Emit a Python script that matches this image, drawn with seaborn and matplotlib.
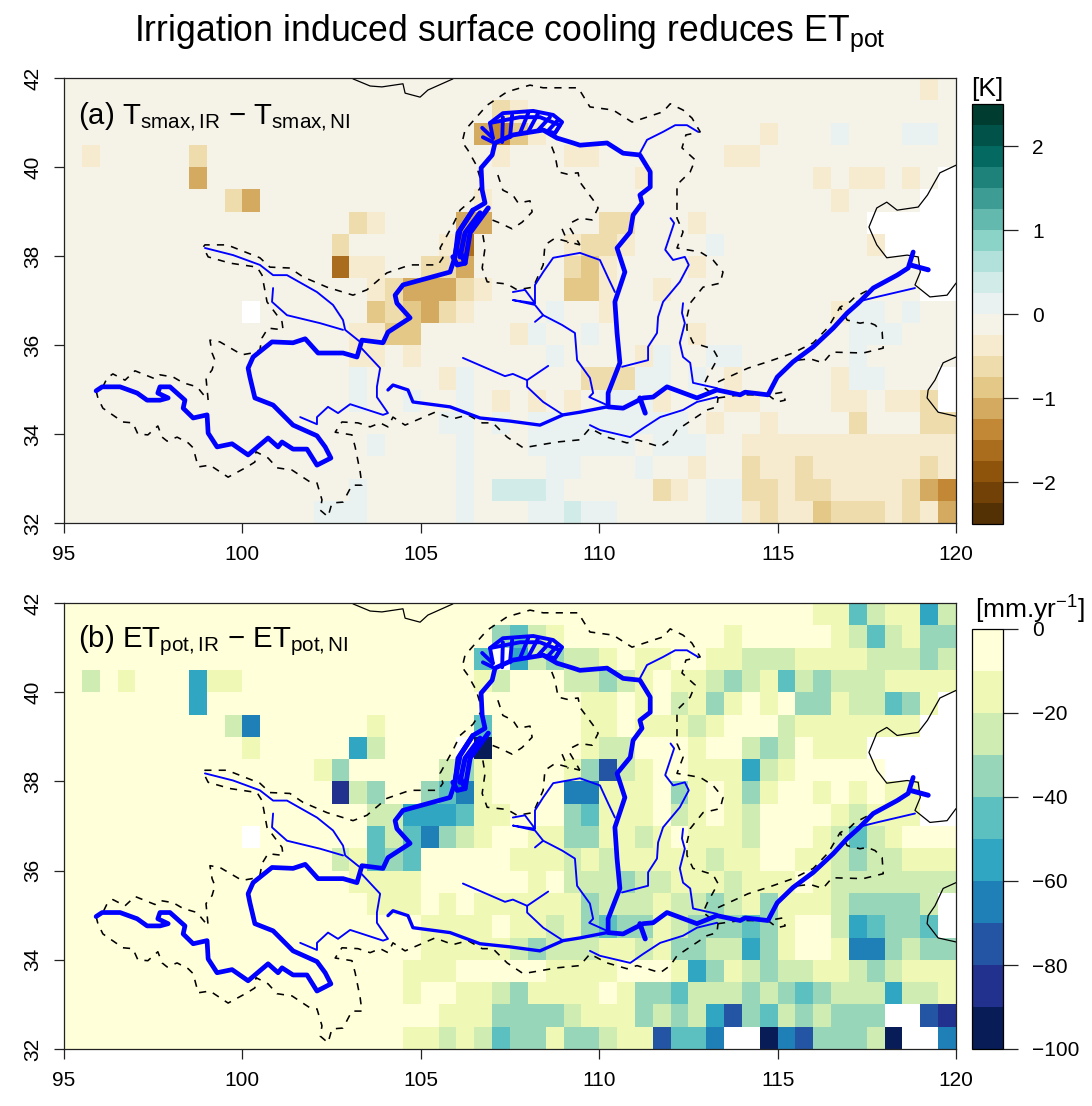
import numpy as np
import pandas as pd
import matplotlib
matplotlib.use("Agg")
import matplotlib.pyplot as plt
import seaborn as sns

sns.set_style("ticks")
plt.rcParams['font.family'] = ['Liberation Sans', 'DejaVu Sans']
plt.rcParams['mathtext.fontset'] = 'custom'
plt.rcParams['mathtext.rm'] = 'Liberation Sans'
plt.rcParams['mathtext.it'] = 'Liberation Sans'
plt.rcParams['mathtext.default'] = 'regular'
plt.rcParams['text.color'] = 'black'
plt.rcParams['xtick.labelcolor'] = 'black'
plt.rcParams['ytick.labelcolor'] = 'black'

# 0.5 degree grid, north to south, west to east
lon_ticks = [95, 100, 105, 110, 115, 120]
lat_ticks = [32, 34, 36, 38, 40, 42]

# (a) surface temperature change [K], one character per grid cell
tsmax_codes = {'.': -0.12, 'a': -0.37, 'b': -0.62, 'c': -0.87, 'd': -1.12, 'e': -1.37,
               'f': -1.62, '+': 0.12, '*': 0.37, 'n': np.nan}
tsmax_rows = [
    ".......... .......... .......... .......... ........a.",
    ".......... .......... ....ba.... .......... ..........",
    ".......... .......... ...deca... .........a ...+...++.",
    ".a.....b.. .......... ....a...aa .......aa. ..........",
    ".......d.. .......... .......... ..a....... ..a.aa.a.n",
    ".........b d......... ...a...... .......... ...a....nn",
    ".......... ......ba.. ..dd...... bb...a.... .....nnnnn",
    ".......... .....b.... .af.....ab ba....+... .....annnn",
    ".......... .....faa.. bbd.....bc a....a.... ........nn",
    ".......... .......abd ddba....cc a..a...... ........nn",
    ".......... n......cbc dba....+.. a......... ...a++.+..",
    ".......... ......aacc .....a+..+ .....a.... ....+++...",
    ".......... ......aa.a .......+.. ..a+..++.. ....+.....",
    ".......... ......+... .a+......b bb++.+.a.. ...a++...n",
    ".......... ......+..+ ..+.a.a.a. +++a...aa. ...aa.aabn",
    ".......... .......... .++.+.++++ +++++.a..a ....b...bb",
    ".......... .......+.. ..+...++++ ++.+++..aa aaaaaaaaaa",
    ".......... .......... ..+....++. ..+..a..ba abaaaaaaba",
    ".......... ......+... ..+.***+.. ...ba.++bb abbaaaabde",
    ".......... ....+++... ..+...++*+ +.....++ab aacbbbabad",
]

# (b) potential evapotranspiration change, colour class per cell (class k = -10k-5 mm/yr)
etpot_rows = [
    "0000000000 0000000000 0000000000 0000000000 0011421152",
    "0000000000 0000000000 0000342100 0000000100 0001242133",
    "0000000000 0000000000 0004n52322 1011001122 2111122232",
    "0201000511 0000000000 0001200022 3210112321 4232221111",
    "0000000500 0000000000 0000000001 1010213101 033122431n",
    "0000000002 6000000100 0004000001 1011121000 21111111nn",
    "0000000000 1000005200 00n9000001 2200010023 20111nnnnn",
    "0000000000 0000130000 0231000013 7210011152 100000nnnn",
    "0000000000 0000082300 3461000066 1110310131 00101011nn",
    "0000000000 0000000225 5541100034 1110210120 00012111nn",
    "0000000000 n000000424 6321001133 1121011120 0012421000",
    "0000000000 0000021434 0000011121 2111112110 0112322111",
    "0000000000 0000001111 0000001022 2322111211 1012222222",
    "0000000000 0000000111 0101111113 2221223213 111233332n",
    "0000000000 0000000000 1111011213 4331233343 100254334n",
    "0000000000 0000000000 1111123222 1121332253 1001663233",
    "0000000000 0000000001 1100000111 1000153123 2211232111",
    "0000000000 0000000001 0011231111 0133422232 3432225221",
    "0000000000 0000000000 0111333321 1132325734 232333nn78",
    "0000000000 0000000001 1212433133 2117446nn9 6733329nn6",
]

tsmax_ticks = [-2, -1, 0, 1, 2]
etpot_ticks = [-100, -80, -60, -40, -20, 0]

# Yellow River main stem
main_lon = [95.90, 96.07, 96.57, 97.05, 97.33, 97.69, 97.92, 97.63, 97.69, 97.97, 98.39, 98.34, 98.62, 99.01,
            99.04, 99.29, 99.71, 100.16, 100.72, 101.0, 101.11, 101.42, 101.81, 102.09, 102.48, 102.32, 102.09,
            101.42, 100.86, 100.35, 100.21, 100.16, 100.30, 100.83, 101.42, 101.76, 102.12, 102.82, 103.21,
            103.35, 103.94, 104.08, 104.70, 104.33, 104.28, 104.50, 105.82, 105.96, 106.04, 106.46, 106.80,
            106.72, 106.69, 107.0, 107.08, 107.58, 108.43, 108.82, 109.27, 109.46, 110.22, 110.67, 111.14, 111.43,
            111.43, 111.14, 111.20, 110.95, 110.87, 110.50, 110.72, 110.44, 110.50, 110.58, 110.25, 110.25,
            110.67, 111.23, 111.51, 111.90, 112.74, 113.30, 113.95, 114.09, 114.73, 114.99, 115.43, 116.0,
            116.56, 116.95, 117.26, 117.68, 118.35, 118.66, 118.80]
main_lat = [34.97, 35.06, 35.06, 34.92, 34.76, 34.76, 34.81, 34.92, 35.06, 35.06, 34.76, 34.58, 34.36, 34.43,
            34.02, 33.71, 33.78, 33.53, 33.91, 33.71, 33.82, 33.66, 33.66, 33.30, 33.46, 33.71, 33.96,
            34.20, 34.65, 34.81, 35.28, 35.48, 35.73, 36.07, 36.05, 36.14, 35.82, 35.82, 35.73,
            36.11, 36.05, 36.29, 36.61, 36.94, 37.12, 37.35, 37.64, 37.98, 38.52, 39.03, 39.19,
            39.48, 39.98, 40.27, 40.54, 40.72, 40.83, 40.65, 40.54, 40.49, 40.54, 40.31, 40.27, 39.89,
            39.55, 39.37, 39.19, 38.92, 38.54, 38.18, 37.64, 36.97, 36.27, 35.60, 34.92, 34.61,
            34.58, 34.81, 34.83, 35.06, 34.81, 34.99, 34.88, 34.94, 34.88, 35.28, 35.62, 35.96,
            36.38, 36.72, 36.94, 37.28, 37.57, 37.73, 38.09]

# side channels of the main stem (lon, lat)
channels = [
    ([118.71, 119.22], [37.80, 37.69]),
    ([105.96, 106.10, 106.46], [38.02, 38.58, 39.03]),
    ([106.24, 106.38, 106.89], [37.84, 38.52, 39.08]),
    ([106.10, 106.24, 106.66], [37.98, 38.52, 38.97]),
    ([105.90, 106.02, 106.24, 106.10], [37.98, 37.80, 37.84, 38.10]),
    ([111.14, 111.29], [34.81, 34.47]),
]
hetao_lines = [
    ([106.72, 107.02], [40.88, 40.65]),
    ([106.74, 107.02], [40.67, 40.56]),
    ([107.02, 106.94, 107.30, 108.15, 108.71, 108.96, 108.76, 108.43], [40.65, 40.99, 41.21, 41.26, 41.17, 41.01, 40.76, 40.83]),
    ([106.94, 107.78, 108.34, 108.90, 108.76], [40.99, 41.12, 41.12, 40.94, 40.76]),
    ([107.28, 107.30], [40.56, 41.12]),
    ([107.50, 107.56], [40.67, 41.17]),
    ([107.78, 108.01], [40.76, 41.21]),
    ([108.01, 108.29], [40.79, 41.21]),
    ([108.29, 108.62], [40.83, 41.12]),
    ([108.54, 108.85], [40.79, 41.06]),
]

wei_lon = [104.08, 104.22, 104.64, 104.78, 105.82, 106.66, 107.50, 108.34, 108.99, 109.46, 110.22]
wei_lat = [34.99, 35.10, 34.99, 34.72, 34.61, 34.36, 34.29, 34.20, 34.43, 34.49, 34.61]

tributaries = [
    ([98.95, 99.74, 100.49, 100.86, 101.25, 102.09, 102.54, 102.82, 102.88, 103.30],
     [38.18, 38.02, 37.80, 37.57, 37.57, 37.19, 36.90, 36.56, 36.34, 36.07]),
    ([100.86, 100.83, 101.25, 102.18, 102.82], [37.28, 36.97, 36.67, 36.49, 36.34]),
    ([101.62, 102.09, 102.09, 102.40, 102.68, 103.02, 103.94, 104.08, 103.77, 103.77, 103.86, 103.30],
     [34.38, 34.22, 34.38, 34.61, 34.47, 34.67, 34.43, 34.47, 34.83, 35.06, 35.48, 35.96]),
    ([106.18, 107.36, 107.58, 107.98, 108.57], [35.71, 35.30, 35.35, 35.21, 35.53]),
    ([107.98, 107.98, 108.43, 108.99], [35.21, 35.06, 34.72, 34.43]),
    ([107.58, 107.92, 108.20, 107.58, 108.20, 108.43, 108.96, 109.32, 109.38, 109.74, 109.83, 109.72, 110.22],
     [37.19, 37.24, 36.94, 37.01, 36.90, 36.67, 36.45, 36.27, 35.66, 35.26, 34.92, 34.83, 34.65]),
    ([108.20, 108.20, 108.43, 108.71, 109.46, 110.02, 110.25, 110.44], [36.94, 37.35, 37.64, 37.96, 38.07, 37.91, 37.51, 37.19]),
    ([108.43, 108.20], [36.67, 36.52]),
    ([112.0, 112.10, 111.85, 112.07, 112.40, 112.51, 112.26, 111.79, 111.65, 111.62, 111.37, 111.37, 110.64],
     [38.85, 38.74, 38.14, 37.91, 37.98, 37.80, 37.42, 36.97, 36.63, 36.27, 35.96, 35.66, 35.51]),
    ([112.35, 112.32, 112.40, 112.26, 112.35, 112.55, 112.63, 113.30], [36.94, 36.72, 36.49, 36.05, 35.73, 35.60, 35.15, 35.03]),
    ([109.74, 110.02, 110.87, 111.23, 111.71, 112.35, 112.74, 113.30], [34.20, 34.09, 33.93, 34.13, 34.38, 34.54, 34.72, 34.83]),
    ([111.14, 111.34, 111.79, 112.13, 112.46, 112.77], [40.31, 40.61, 40.79, 40.94, 40.94, 40.79]),
    ([117.23, 117.78, 118.85], [36.97, 37.08, 37.28]),
]

# basin boundary pieces
basin_lines = [
    ([95.90, 95.95, 96.09, 96.65, 96.93, 97.07, 97.35, 97.63, 97.75, 97.89, 98.17, 98.48, 98.62, 98.76, 99.09, 99.60,
      100.13, 100.35, 100.38, 100.72, 100.97, 101.39, 101.90, 102.09, 102.23, 102.18, 102.40, 102.51, 102.82, 103.07,
      103.35, 103.30, 103.16, 103.07, 102.60, 102.79, 103.24, 103.58, 103.86, 104.08, 104.22, 104.56, 105.40, 105.90,
      106.32, 106.72, 107.02, 107.42, 107.87, 108.82, 109.46, 109.74, 110.22, 110.78, 111.06, 111.34, 111.71, 111.99,
      112.18, 113.02, 113.30, 113.33, 112.91, 113.02, 113.33, 113.19, 112.63, 112.46, 112.46, 112.55, 112.91, 113.39,
      113.47, 113.19, 112.83, 112.18, 112.35, 112.18, 112.18, 112.18, 112.55, 112.69, 112.32, 112.43, 112.83, 112.60,
      112.35, 111.99, 111.79, 110.92, 110.39, 109.74, 109.41, 108.43, 108.06, 107.42, 106.86, 106.24, 106.16, 106.32,
      106.55, 106.72, 106.46, 106.10, 105.90, 105.54, 105.62, 105.48, 104.70, 104.05, 103.49, 103.10, 102.37, 101.70,
      101.33, 100.77, 100.49, 99.57, 98.95, 98.90, 99.04, 99.65, 100.41, 100.55, 100.69, 101.11, 101.14, 100.72, 100.55,
      100.49, 100.27, 99.99, 99.37, 99.09, 99.15, 99.23, 99.15, 98.98, 99.04, 98.87, 98.73, 98.34, 98.06, 97.69, 97.55,
      96.99, 96.71, 96.37, 96.21, 96.07, 95.90],
     [34.97, 34.81, 34.58, 34.27, 34.25, 34.0, 33.98, 34.18, 33.93, 33.84, 33.93, 33.80, 33.69, 33.26, 33.30, 33.03,
      33.26, 33.37, 33.60, 33.46, 33.24, 33.19, 32.92, 32.90, 32.52, 32.29, 32.14, 32.45, 32.47, 32.85,
      32.85, 33.15, 33.71, 33.98, 34.04, 34.27, 34.25, 34.16, 34.25, 34.16, 34.38, 34.20, 34.49, 34.34,
      34.43, 34.25, 34.25, 33.93, 33.69, 33.82, 33.87, 34.13, 33.93, 33.80, 33.87, 33.80, 33.71, 33.87,
      34.09, 34.54, 34.61, 34.81, 35.06, 35.26, 35.71, 35.91, 36.05, 36.34, 36.63, 36.94, 37.30, 37.39,
      37.64, 37.91, 38.09, 38.18, 38.54, 38.85, 39.15, 39.60, 39.89, 40.16, 40.43, 40.72, 40.79, 41.10,
      41.28, 41.42, 41.24, 41.01, 41.28, 41.35, 41.78, 41.78, 41.84, 41.69, 41.39, 40.83, 40.56, 40.38,
      40.05, 39.60, 39.28, 39.03, 38.70, 38.18, 37.96, 37.80, 37.80, 37.62, 37.24, 37.12, 37.30, 37.53,
      37.73, 37.75, 37.96, 38.25, 38.25, 38.20, 37.98, 37.84, 37.75, 37.57, 36.97, 36.52, 36.34, 36.38, 36.16,
      35.89, 35.82, 35.78, 36.07, 36.11, 35.82, 35.66, 35.44, 35.26, 34.76, 34.92, 35.06, 35.15, 35.28, 35.33, 35.24,
      35.42, 35.21, 35.35, 35.26, 35.03, 34.97]),
    ([113.33, 114.17, 114.79, 115.43, 116.0, 116.42, 116.75, 117.03, 117.17, 117.82, 118.43],
     [35.17, 35.48, 35.64, 35.82, 36.05, 36.40, 36.85, 36.97, 37.08, 37.35, 37.57]),
    ([115.57, 115.91, 116.27, 116.53, 117.40, 117.96, 117.93, 117.73, 117.51, 117.31, 116.95, 116.75],
     [35.66, 35.69, 35.60, 35.84, 35.82, 35.93, 36.29, 36.45, 36.52, 36.49, 36.56, 36.85]),
    ([113.33, 113.95, 114.73, 115.15, 115.21, 114.99, 114.73], [34.81, 34.88, 34.88, 34.94, 34.76, 34.72, 34.88]),
    ([107.16, 107.30, 107.58, 107.73, 108.06, 108.12, 107.84, 107.56, 107.22, 107.0],
     [39.82, 39.48, 39.37, 39.19, 39.24, 38.99, 38.76, 38.61, 38.74, 38.81]),
    ([106.74, 106.80, 106.72, 106.86, 107.42, 107.70, 108.15, 108.43, 108.48, 108.76, 109.46],
     [38.47, 38.18, 37.73, 37.42, 37.37, 37.24, 37.30, 37.80, 38.25, 38.40, 38.25]),
    ([109.24, 109.46, 109.80, 109.97, 109.83, 109.46, 109.41, 109.10, 108.85, 108.76, 108.62],
     [38.76, 38.85, 38.81, 39.08, 39.26, 39.66, 39.87, 39.84, 39.89, 40.27, 40.56]),
    ([108.96, 109.13], [38.61, 38.29]),
    ([109.18, 109.46], [38.63, 38.25]),
]

coast_lines = [
    ([103.1, 103.58, 103.91, 104.5, 104.56, 104.98, 105.2, 105.9], [41.98, 41.82, 41.8, 41.87, 41.66, 41.57, 41.73, 41.98]),
    ([120, 119.55, 119.36, 119.2, 118.94, 118.35, 118.06, 117.78, 117.56, 117.78, 118.06, 118.63, 118.94, 119.0, 118.85, 119.27, 119.75, 120],
     [40.04, 39.87, 39.6, 39.37, 39.1, 39.03, 39.21, 39.08, 38.65, 38.25, 37.96, 38.02, 37.98, 37.64, 37.35, 37.08, 37.12, 37.39]),
    ([120, 119.64, 119.41, 119.22, 119.19, 119.5, 120], [35.73, 35.6, 35.21, 34.99, 34.81, 34.49, 34.4]),
]


def parse_rows(rows, codes):
    table = [[codes[c] for c in r.replace(" ", "")] for r in rows]
    return pd.DataFrame(table)


def to_x(lon):
    return (np.array(lon) - 95) * 2


def to_y(lat):
    return (42 - np.array(lat)) * 2


def draw_map(ax, cax, data, cmap, vmin, vmax, ticks):
    sns.heatmap(data, ax=ax, cbar_ax=cax, cmap=cmap, vmin=vmin, vmax=vmax,
                xticklabels=False, yticklabels=False, cbar_kws={'ticks': ticks})

    for x, y in coast_lines:
        ax.plot(to_x(x), to_y(y), color='black', lw=0.9)
    for x, y in basin_lines:
        ax.plot(to_x(x), to_y(y), color='black', lw=1.15, ls=(0, (4.5, 4.5)))
    for x, y in tributaries:
        ax.plot(to_x(x), to_y(y), color='#0000FF', lw=1.35, solid_joinstyle='round')
    ax.plot(to_x(wei_lon), to_y(wei_lat), color='#0000FF', lw=2.4, solid_joinstyle='round')
    for x, y in hetao_lines:
        ax.plot(to_x(x), to_y(y), color='#0000FF', lw=2.8, solid_capstyle='round', solid_joinstyle='round')
    for x, y in channels:
        ax.plot(to_x(x), to_y(y), color='#0000FF', lw=3.6, solid_capstyle='round', solid_joinstyle='round')
    ax.plot(to_x(main_lon), to_y(main_lat), color='#0000FF', lw=3.4, solid_joinstyle='round', solid_capstyle='round')

    # axis look of the original
    ax.set_xticks(to_x(lon_ticks))
    ax.set_xticklabels(lon_ticks, fontsize=15, rotation=0)
    ax.set_yticks(to_y(lat_ticks))
    ax.set_yticklabels(lat_ticks, fontsize=15, rotation=90, va='center')
    ax.tick_params(axis='x', length=7.5, width=0.9, pad=8, color='#222222')
    ax.tick_params(axis='y', length=7.5, width=0.9, pad=8, color='#222222')
    ax.set_xlabel("")
    ax.set_ylabel("")
    for s in ax.spines.values():
        s.set_visible(True)
        s.set_linewidth(0.9)
        s.set_color('#222222')

    cax.tick_params(length=11, width=0.9, pad=10, labelsize=15, color='#222222')
    cbar = ax.collections[0].colorbar
    cbar.outline.set_visible(True)
    cbar.outline.set_edgecolor('black')
    cbar.outline.set_linewidth(0.9)


W, H = 1092.0, 1106.0


def box(left, top, right, bottom):
    return [left / W, 1 - bottom / H, (right - left) / W, (bottom - top) / H]


fig = plt.figure(figsize=(10.92, 11.06), dpi=100)
ax1 = fig.add_axes(box(64, 78, 956, 523))
cax1 = fig.add_axes(box(972, 104, 1003, 524))
ax2 = fig.add_axes(box(64, 603, 956, 1049))
cax2 = fig.add_axes(box(972, 629, 1003, 1049))

tsmax = parse_rows(tsmax_rows, tsmax_codes)
etpot_codes = {str(k): -10 * k - 5 for k in range(10)}
etpot_codes['n'] = np.nan
etpot = parse_rows(etpot_rows, etpot_codes)

draw_map(ax1, cax1, tsmax, matplotlib.colormaps['BrBG'].resampled(20), -2.5, 2.5, tsmax_ticks)
draw_map(ax2, cax2, etpot, matplotlib.colormaps['YlGnBu_r'].resampled(10), -100, 0, etpot_ticks)

ax1.text(14 / 892, 1 - 38 / 445, r'(a) T$_{smax,IR}$ $-$ T$_{smax,NI}$', transform=ax1.transAxes,
         fontsize=21.2, va='center', ha='left', color='black')
ax2.text(14 / 892, 1 - 38 / 446, r'(b) ET$_{pot,IR}$ $-$ ET$_{pot,NI}$', transform=ax2.transAxes,
         fontsize=21.2, va='center', ha='left', color='black')

fig.text(510 / W, 1 - 33 / H, r'Irrigation induced surface cooling reduces ET$_{pot}$',
         fontsize=25.7, ha='center', va='center')
fig.text(987 / W, 1 - 89 / H, '[K]', fontsize=19, ha='center', va='center')
fig.text(1030 / W, 1 - 610 / H, r'[mm.yr$^{-1}$]', fontsize=19, ha='center', va='center')

fig.savefig('out.png', dpi=100)
